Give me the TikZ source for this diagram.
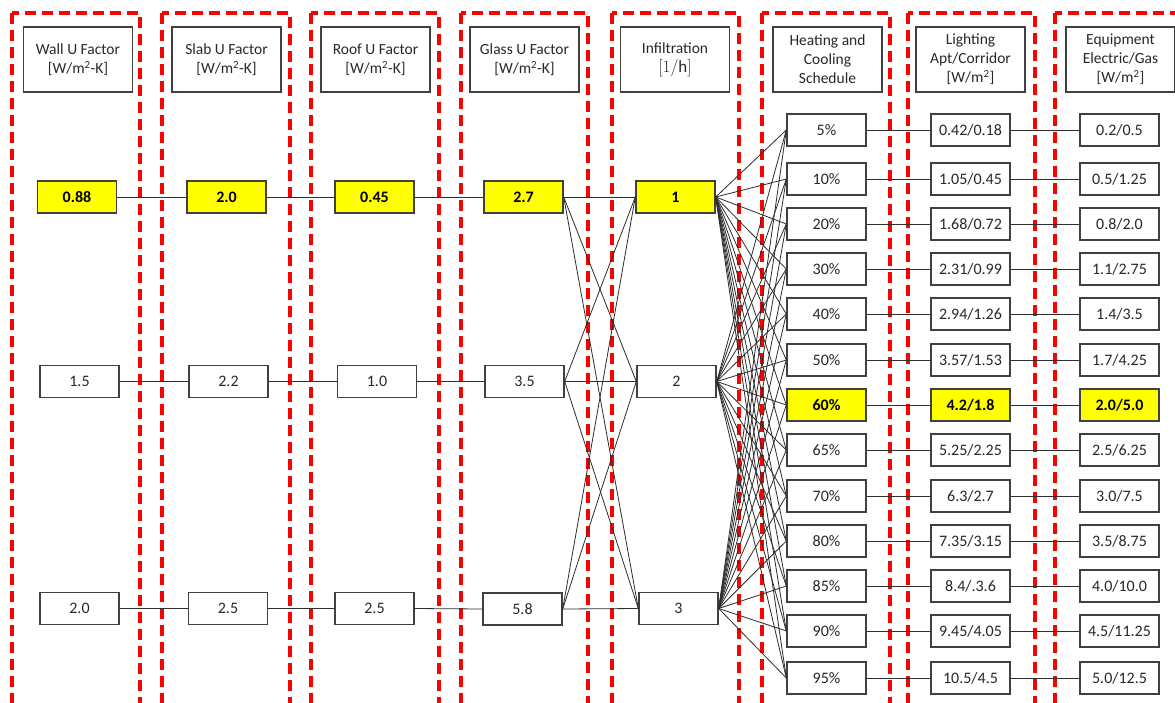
\documentclass[tikz,border=0pt]{standalone}
\usepackage{fontspec}
\setmainfont{Carlito}
\definecolor{boxgray}{RGB}{64,64,64}
\definecolor{txtgray}{RGB}{40,40,40}
\definecolor{linegray}{RGB}{45,45,45}
\definecolor{hlyellow}{RGB}{255,255,0}
\definecolor{framered}{RGB}{255,0,0}
\begin{document}
\begin{tikzpicture}[x=1pt,y=-1pt,
  valbox/.style={draw=boxgray, line width=1.4pt, minimum width=79pt, minimum height=32pt, inner sep=0pt,
    font=\fontsize{16}{18}\selectfont, text=txtgray},
  hlbox/.style={valbox, fill=hlyellow, text=black, font=\fontsize{16}{18}\selectfont\bfseries},
  headbox/.style={draw=boxgray, line width=1.4pt, minimum width=109pt, minimum height=65pt, inner sep=0pt,
    align=center, font=\fontsize{15.5}{19}\selectfont, text=txtgray},
  conn/.style={draw=linegray, line width=0.8pt},
  frame/.style={draw=framered, line width=3.2pt, dash pattern=on 11pt off 6pt}]
\clip (0,0) rectangle (1175,702);
\fill[white] (0,0) rectangle (1175,702);
% group frames
\draw[frame] (12,13) rectangle (140,730);
\draw[frame] (162,13) rectangle (290,730);
\draw[frame] (311,13) rectangle (439,730);
\draw[frame] (461,13) rectangle (588,730);
\draw[frame] (612,13) rectangle (739,730);
\draw[frame] (762,13) rectangle (890,730);
\draw[frame] (908,13) rectangle (1035,730);
\draw[frame] (1055,13) rectangle (1200,730);
% headers
\node[headbox] (hw) at (78,59.5) {Wall U Factor\\{[W/m\textsuperscript{2}-K]}};
\node[headbox] (hs) at (226.5,59.5) {Slab U Factor\\{[W/m\textsuperscript{2}-K]}};
\node[headbox] (hr) at (375.5,59.5) {Roof U Factor\\{[W/m\textsuperscript{2}-K]}};
\node[headbox] (hg) at (524.5,59.5) {Glass U Factor\\{[W/m\textsuperscript{2}-K]}};
\node[headbox] (hi) at (675,59.5) {Infiltration\\{\fontsize{17}{19}\selectfont$[1/\mathrm{h}]$}};
\node[headbox] (hh) at (827.5,59.5) {Heating and\\Cooling\\Schedule};
\node[headbox] (hl) at (970.5,59.5) {Lighting\\Apt/Corridor\\{[W/m\textsuperscript{2}]}};
\node[headbox] (he) at (1120.5,59.5) {Equipment\\Electric/Gas\\{[W/m\textsuperscript{2}]}};
% left columns
\node[hlbox]  (w1) at (77,197) {0.88};
\node[valbox] (w2) at (79.5,381.5) {1.5};
\node[valbox] (w3) at (79.5,608.5) {2.0};
\node[hlbox]  (s1) at (226.5,197) {2.0};
\node[valbox] (s2) at (228.5,381.5) {2.2};
\node[valbox] (s3) at (228,608.5) {2.5};
\node[hlbox]  (r1) at (374.5,197) {0.45};
\node[valbox] (r2) at (377,381.5) {1.0};
\node[valbox] (r3) at (374.5,608.5) {2.5};
\node[hlbox]  (g1) at (523.5,197) {2.7};
\node[valbox] (g2) at (524.5,381.5) {3.5};
\node[valbox] (g3) at (522.5,609) {5.8};
\node[hlbox]  (i1) at (675.5,197) {1};
\node[valbox] (i2) at (676.5,381.5) {2};
\node[valbox] (i3) at (678.5,608.5) {3};
% schedule
\node[valbox] (c1) at (826.5,130) {5\%};
\node[valbox] (c2) at (826.5,179) {10\%};
\node[valbox] (c3) at (826.5,224) {20\%};
\node[valbox] (c4) at (826.5,269) {30\%};
\node[valbox] (c5) at (826.5,314) {40\%};
\node[valbox] (c6) at (826.5,360) {50\%};
\node[hlbox]  (c7) at (826.5,405) {60\%};
\node[valbox] (c8) at (826.5,450) {65\%};
\node[valbox] (c9) at (826.5,496) {70\%};
\node[valbox] (c10) at (826.5,541) {80\%};
\node[valbox] (c11) at (826.5,586) {85\%};
\node[valbox] (c12) at (826.5,631) {90\%};
\node[valbox] (c13) at (826.5,678) {95\%};
% lighting
\node[valbox] (l1) at (970.5,130) {0.42/0.18};
\node[valbox] (l2) at (970.5,179) {1.05/0.45};
\node[valbox] (l3) at (970.5,224) {1.68/0.72};
\node[valbox] (l4) at (970.5,269) {2.31/0.99};
\node[valbox] (l5) at (970.5,314) {2.94/1.26};
\node[valbox] (l6) at (970.5,360) {3.57/1.53};
\node[hlbox]  (l7) at (970.5,405) {4.2/1.8};
\node[valbox] (l8) at (970.5,450) {5.25/2.25};
\node[valbox] (l9) at (970.5,496) {6.3/2.7};
\node[valbox] (l10) at (970.5,541) {7.35/3.15};
\node[valbox] (l11) at (970.5,586) {8.4/.3.6};
\node[valbox] (l12) at (970.5,631) {9.45/4.05};
\node[valbox] (l13) at (970.5,678) {10.5/4.5};
% equipment
\node[valbox] (e1) at (1119.5,130) {0.2/0.5};
\node[valbox] (e2) at (1119.5,179) {0.5/1.25};
\node[valbox] (e3) at (1119.5,224) {0.8/2.0};
\node[valbox] (e4) at (1119.5,269) {1.1/2.75};
\node[valbox] (e5) at (1119.5,314) {1.4/3.5};
\node[valbox] (e6) at (1119.5,360) {1.7/4.25};
\node[hlbox]  (e7) at (1119.5,405) {2.0/5.0};
\node[valbox] (e8) at (1119.5,450) {2.5/6.25};
\node[valbox] (e9) at (1119.5,496) {3.0/7.5};
\node[valbox] (e10) at (1119.5,541) {3.5/8.75};
\node[valbox] (e11) at (1119.5,586) {4.0/10.0};
\node[valbox] (e12) at (1119.5,631) {4.5/11.25};
\node[valbox] (e13) at (1119.5,678) {5.0/12.5};
% connectors
\foreach \k in {1,2,3}{
  \draw[conn] (w\k.east) -- (s\k.west);
  \draw[conn] (s\k.east) -- (r\k.west);
  \draw[conn] (r\k.east) -- (g\k.west);
  \foreach \m in {1,2,3}{ \draw[conn] (g\k.east) -- (i\m.west); }
  \foreach \m in {1,...,13}{ \draw[conn] (i\k.east) -- (c\m.west); }
}
\foreach \m in {1,...,13}{
  \draw[conn] (c\m.east) -- (l\m.west);
  \draw[conn] (l\m.east) -- (e\m.west);
}
\end{tikzpicture}
\end{document}
